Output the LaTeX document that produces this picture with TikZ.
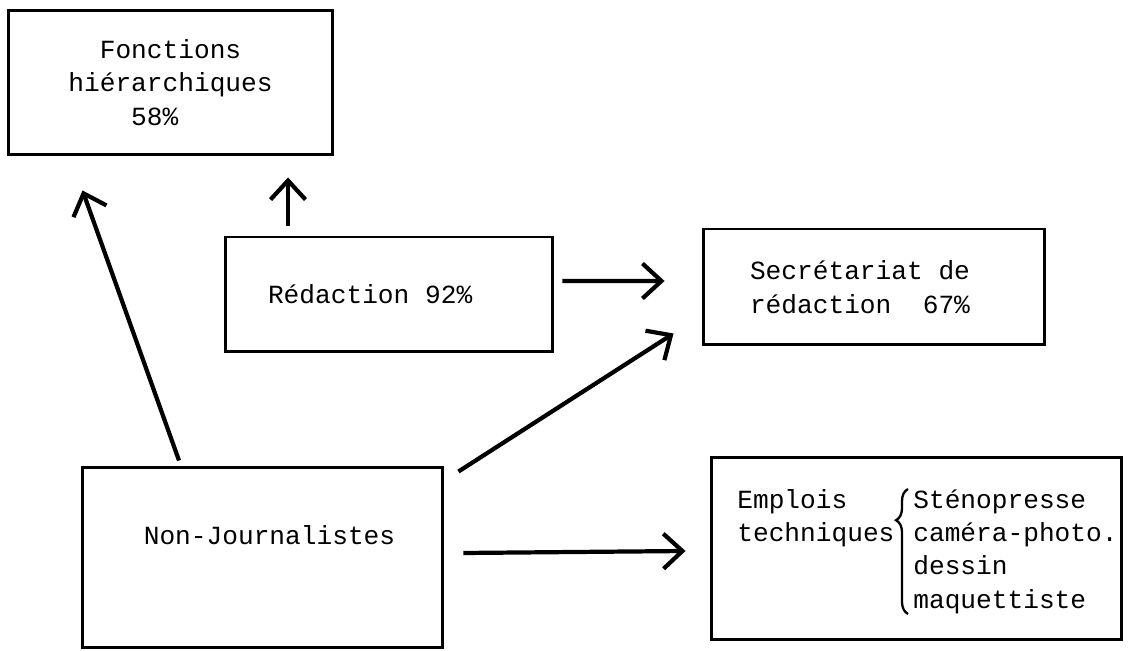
\documentclass[tikz,border=0pt]{standalone}
\usepackage{fontspec}
\setmonofont{Liberation Mono}
\usetikzlibrary{arrows.meta,decorations.pathreplacing}
\newcommand\typew{\ttfamily\fontsize{14.9}{19}\selectfont}
\newcommand\tsp{\hspace*{8.94pt}}

\begin{document}
\begin{tikzpicture}[x=0.02cm,y=-0.02cm,
	txt/.style={inner sep=0pt,font=\typew},
	box/.style={txt,draw,line width=1.7pt},
	arr/.style={line width=2.4pt,-{Straight Barb[length=0.38cm,width=0.7cm]}}]
	\useasboundingbox (0,0) rectangle (1130,651);
	\node[box,minimum width=6.5cm,minimum height=2.9cm,align=center] (fonc) at (170.5,82.5) {Fonctions\\hiérarchiques\\58\%\hspace*{1.2em}};
	\node[box,minimum height=2.3cm,text width=4.84cm,inner xsep=0.86cm,align=left] (red) at (389,294.5) {Rédaction\tsp 92\%};
	\node[box,minimum height=2.32cm,text width=4.96cm,inner xsep=0.94cm,align=left] (sec) at (874,287) {Secrétariat\tsp de\\rédaction\tsp\tsp 67\%};
	\node[box,minimum width=7.22cm,minimum height=3.62cm] (nonj) at (262.5,557.5) {};
	\node[txt] (nonjt) at ([xshift=0.14cm,yshift=0.45cm]nonj.center) {Non-Journalistes};
	\node[box,minimum width=8.22cm,minimum height=3.66cm] (emp) at (916.5,548.5) {};
	\node[txt,anchor=north west,align=left] (tech) at (737,489) {Emplois\\techniques};
	\node[txt,anchor=north west,align=left] (list) at (913,489) {Sténopresse\\caméra-photo.\\dessin\\maquettiste};
	\draw[line width=1.3pt,decorate,decoration={brace,amplitude=0.24cm,aspect=0.75}] ([xshift=-0.1cm]list.south west) -- ([xshift=-0.1cm]list.north west);
	\draw[arr] ([xshift=-1.67cm,yshift=0.1cm]nonj.north) -- ([xshift=1.52cm,yshift=-0.68cm]fonc.south west);
	\draw[arr,shorten >=0.42cm] ([xshift=-2.02cm,yshift=0.2cm]red.north) -- ([xshift=-2.02cm]red.north |- fonc.south);
	\draw[arr] ([xshift=0.16cm,yshift=0.27cm]red.east) -- ([xshift=-0.74cm,yshift=0.12cm]sec.west);
	\draw[arr] ([xshift=0.28cm,yshift=-0.12cm]nonj.north east) -- ([xshift=-0.56cm,yshift=0.26cm]sec.south west);
	\draw[arr] ([xshift=0.38cm,yshift=0.09cm]nonj.east) -- ([xshift=-0.48cm,yshift=-0.05cm]emp.west);
\end{tikzpicture}
\end{document}
